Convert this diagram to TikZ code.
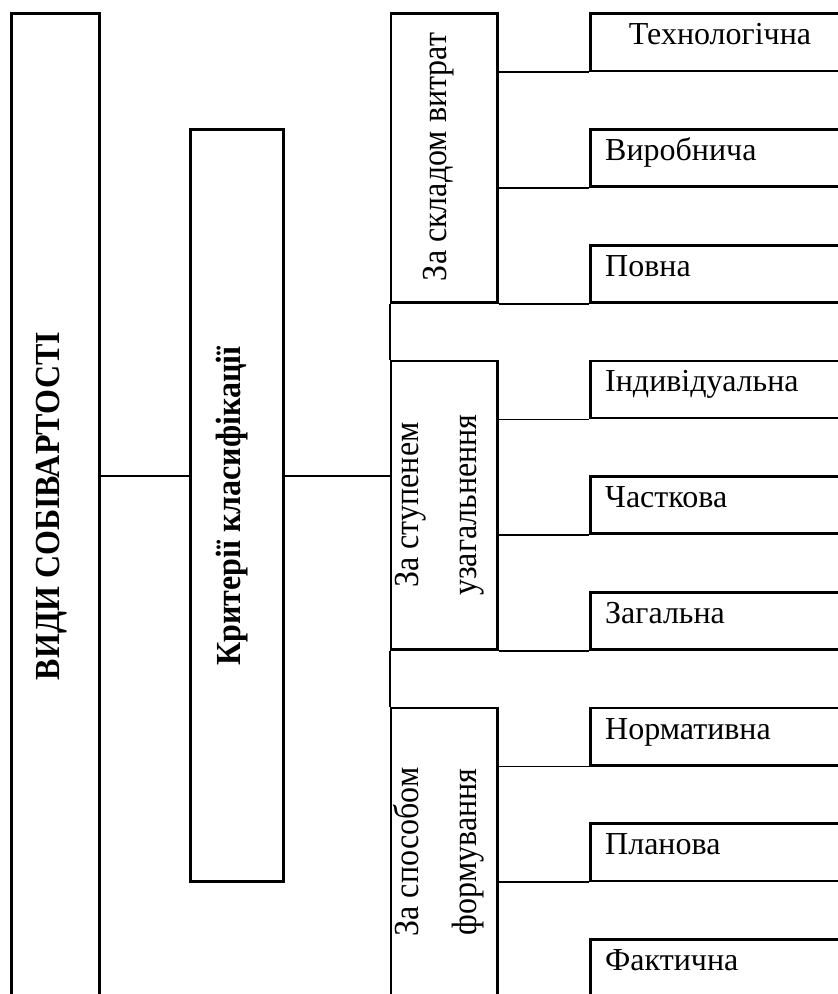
\documentclass[tikz,border=0pt]{standalone}
\usepackage{fontspec}
\setmainfont{Liberation Serif}
\begin{document}
\begin{tikzpicture}[x=1pt,y=-1pt,
  box/.style={draw, line width=2.7pt, inner sep=0pt},
  conn/.style={line width=1.8pt},
  spine/.style={line width=2.1pt},
  txt/.style={font=\fontsize{32}{38}\selectfont, inner sep=0pt},
  vtxt/.style={txt, rotate=90, yscale=1.1, anchor=base},
  rbox/.style={box, minimum width=259.3pt, minimum height=57.2pt},
  rtxt/.style={txt, anchor=base west},
]
\useasboundingbox (0,0) rectangle (838,994);
\clip (0,0) rectangle (838,994);

% main boxes
\node[box, minimum width=88pt, minimum height=996.2pt] (main) at (55.3,511.9) {};
\node[box, minimum width=93pt, minimum height=752.1pt] (crit) at (237,505.25) {};
\node[box, minimum width=106.8pt, minimum height=288.6pt] (g1) at (444.4,158.1) {};
\node[box, minimum width=106.8pt, minimum height=288.6pt] (g2) at (444.4,505.2) {};
\node[box, minimum width=106.8pt, minimum height=302pt] (g3) at (444.4,859) {};

% right boxes
\node[rbox] (r0) at (720.35,42.4) {};
\node[rbox] (r1) at (720.35,158.1) {};
\node[rbox] (r2) at (720.35,273.8) {};
\node[rbox] (r3) at (720.35,389.5) {};
\node[rbox] (r4) at (720.35,505.2) {};
\node[rbox] (r5) at (720.35,620.9) {};
\node[rbox] (r6) at (720.35,736.6) {};
\node[rbox] (r7) at (720.35,852.3) {};
\node[rbox] (r8) at (720.35,968.0) {};

% texts
\node[vtxt, font=\fontsize{32}{38}\selectfont\bfseries] (tmain) at (59,506) {ВИДИ СОБІВАРТОСТІ};
\node[vtxt, font=\fontsize{32}{38}\selectfont\bfseries] (tcrit) at (240,506) {Критерії класифікації};
\node[vtxt] (tg1) at (446,157) {За складом витрат};
\node[vtxt] (tg2a) at (418,505) {За ступенем};
\node[vtxt] (tg2b) at (476,505) {узагальнення};
\node[vtxt] (tg3a) at (418,852) {За способом};
\node[vtxt] (tg3b) at (476,852) {формування};

\node[txt, anchor=base] (t0) at (720,44.8) {Технологічна};
\node[rtxt] (t1) at (605,160.5) {Виробнича};
\node[rtxt] (t2) at (605,276.2) {Повна};
\node[rtxt] (t3) at (605,391.9) {Індивідуальна};
\node[rtxt] (t4) at (605,507.6) {Часткова};
\node[rtxt] (t5) at (605,623.3) {Загальна};
\node[rtxt] (t6) at (605,739.0) {Нормативна};
\node[rtxt] (t7) at (605,854.7) {Планова};
\node[rtxt] (t8) at (605,970.4) {Фактична};

% connectors
\coordinate (lvl) at (0,475.7);
\draw[conn] (main.east |- lvl) -- (crit.west |- lvl);
\draw[conn] (crit.east |- lvl) -- (g2.west |- lvl);
\draw[spine] (g1.south west) -- (g2.north west);
\draw[spine] (g2.south west) -- (g3.north west);

\foreach \g/\r in {g1/r0,g1/r1,g1/r2,g2/r3,g2/r4,g2/r5,g3/r6,g3/r7} {
  \draw[conn] (\g.east |- \r.south) -- (\r.south west);
}
\end{tikzpicture}
\end{document}
